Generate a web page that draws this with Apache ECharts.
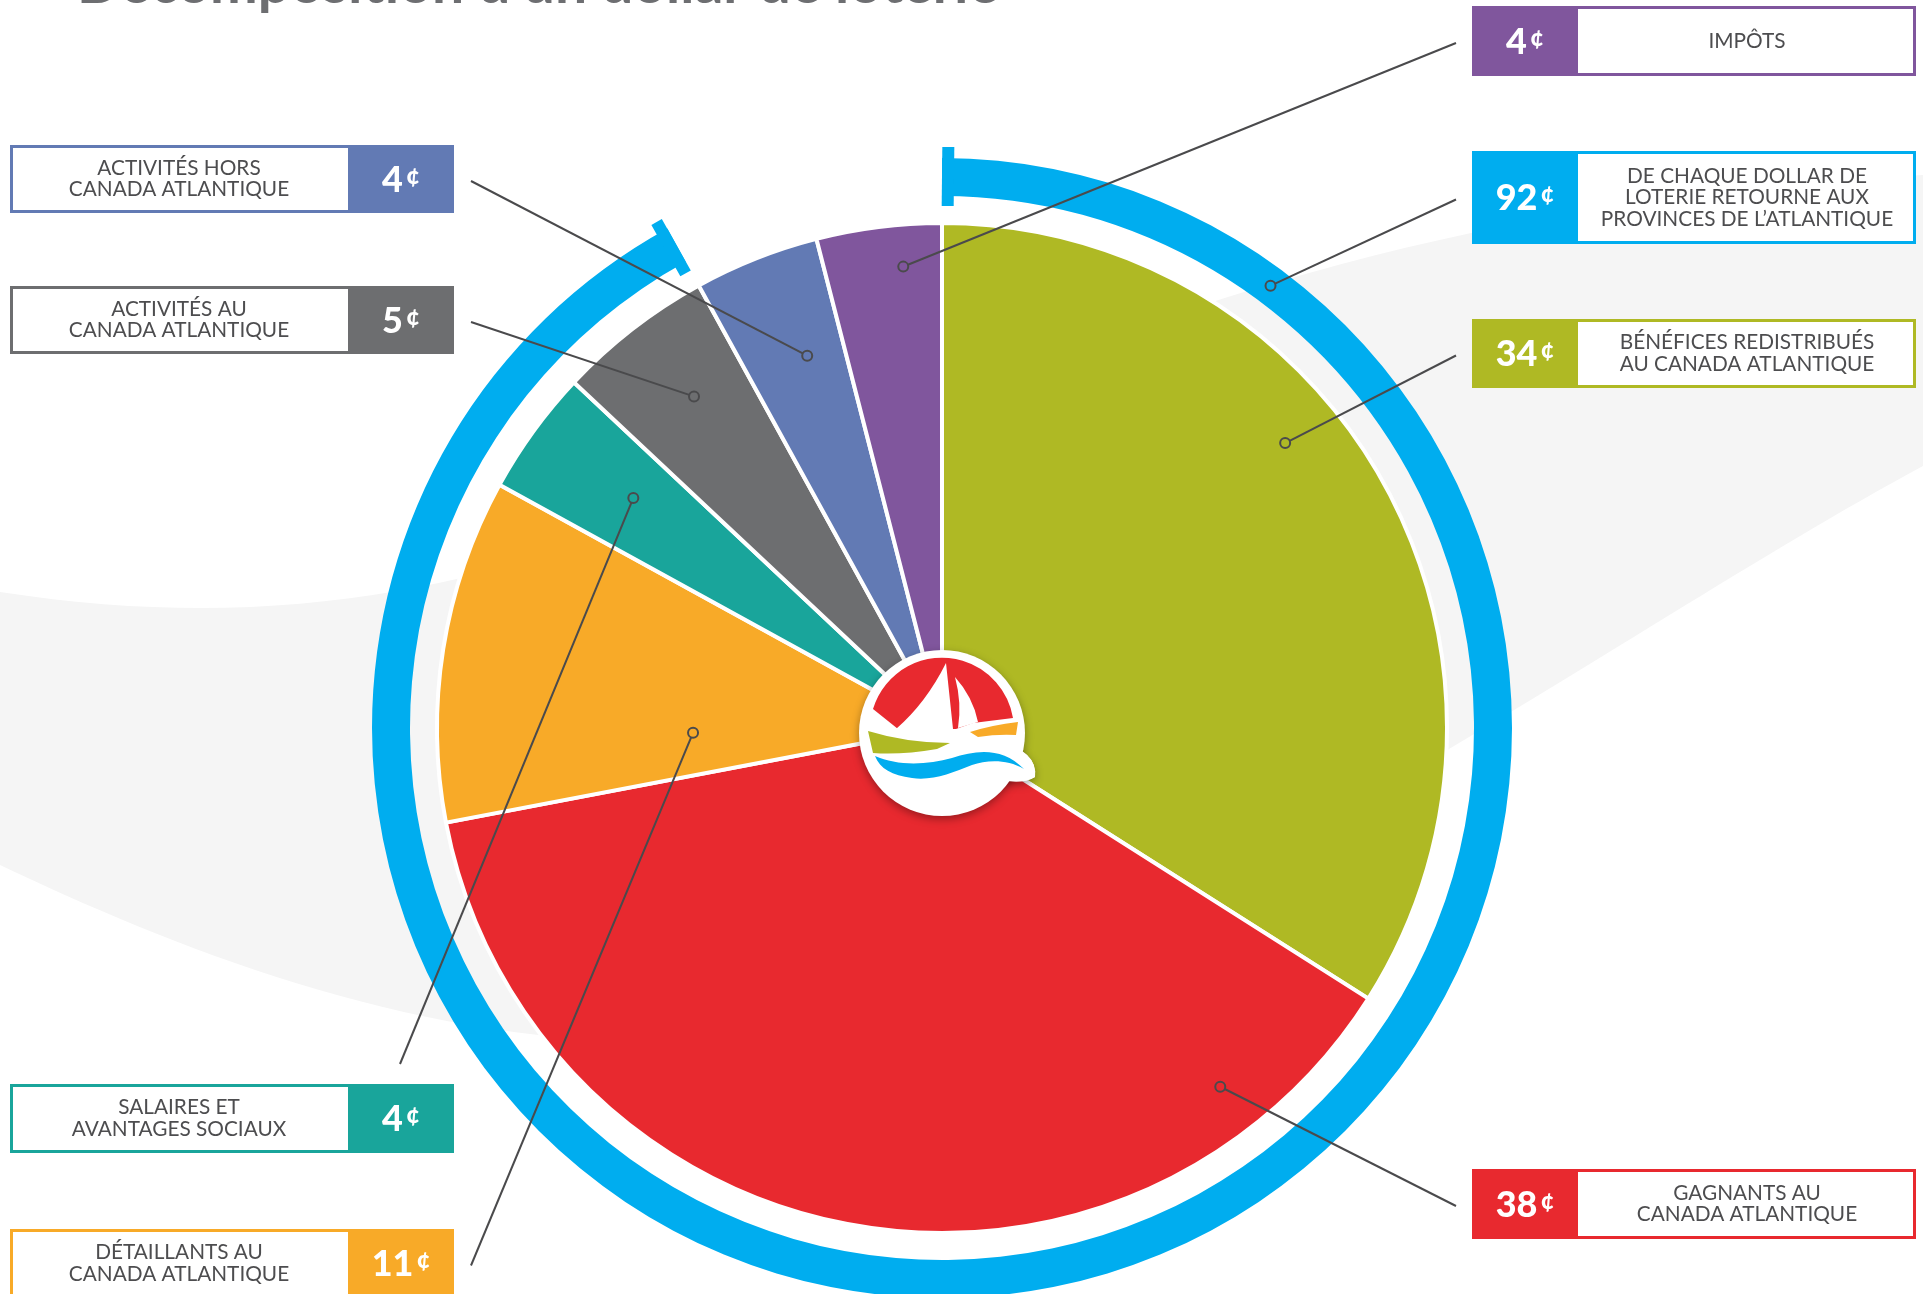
<!DOCTYPE html>
<html><head><meta charset="utf-8">
<script src="https://cdn.jsdelivr.net/npm/echarts@6.0.0/dist/echarts.min.js"></script>
<style>html,body{margin:0;padding:0;background:#fff;}#chart{width:1923px;height:1294px;}</style>
</head><body><div id="chart"></div>
<script>
// ---------- data ----------
const title = 'Décomposition d’un dollar de loterie';
const categories = [
  'BÉNÉFICES REDISTRIBUÉS\nAU CANADA ATLANTIQUE',
  'GAGNANTS AU\nCANADA ATLANTIQUE',
  'DÉTAILLANTS AU\nCANADA ATLANTIQUE',
  'SALAIRES ET\nAVANTAGES SOCIAUX',
  'ACTIVITÉS AU\nCANADA ATLANTIQUE',
  'ACTIVITÉS HORS\nCANADA ATLANTIQUE',
  'IMPÔTS'
];
const cents = [34, 38, 11, 4, 5, 4, 4];
const returnedLabel = 'DE CHAQUE DOLLAR DE\nLOTERIE RETOURNE AUX\nPROVINCES DE L’ATLANTIQUE';
const returnedCents = 92;

// ---------- styles & layout ----------
const colors = ['#afb924', '#e8292f', '#f8aa28', '#19a59b', '#6d6e70', '#627ab4', '#80569d'];
const ringColor = '#00adef';
const textGrey = '#4d4d4f';
const leaderColor = '#4a4a4c';
const CX = 942, CY = 728, R = 505, RING_IN = 532, RING_OUT = 570;
const BOXW = 444, VALW = 106;
const SIDE_X = { left: 10, right: 1472 };
const boxLayout = [
  { side: 'right', top: 319, h: 69, angle: 50.3, r: 446, end: 'side' },
  { side: 'right', top: 1169, h: 70, angle: 142.2, r: 454, end: 'side' },
  { side: 'left', top: 1229, h: 69, angle: 268.9, r: 249, end: 'side' },
  { side: 'left', top: 1084, h: 69, angle: 306.7, r: 385, end: 'top' },
  { side: 'left', top: 286, h: 68, angle: 323.2, r: 414, end: 'side' },
  { side: 'left', top: 145, h: 68, angle: 340.1, r: 396, end: 'side' },
  { side: 'right', top: 6, h: 70, angle: 355.2, r: 463, end: 'side' }
];
const returnedLayout = { side: 'right', top: 151, h: 93, angle: 36.6, r: 551, end: 'side' };

function polar(angleDeg, r) {
  const a = angleDeg * Math.PI / 180;
  return [CX + r * Math.sin(a), CY - r * Math.cos(a)];
}

let shapeCount = 0;
function pathEl(d, props) {
  const name = 'decoPath' + (shapeCount++);
  echarts.graphic.registerShape(name, echarts.graphic.extendPath(d, {}));
  return Object.assign({ type: name, silent: true }, props);
}

const elements = [];

// background swoosh
elements.push(pathEl('M0 592 C700 700 900 230 1923 175 L1923 466 C1600 640 1200 950 800 1030 C500 1080 200 960 0 865 Z',
  { z: -5, style: { fill: '#f5f5f5' } }));

// title (cropped at the top in the reference)
elements.push({
  type: 'text', z: 5, silent: true,
  style: { text: title, x: 77, y: -15, align: 'left', verticalAlign: 'middle',
    fontSize: 57, fontWeight: 'bold', fontFamily: 'Lato', fill: '#6d6e71' }
});

function addBox(lay, color, label, value) {
  const x0 = SIDE_X[lay.side];
  const valX = lay.side === 'left' ? x0 + BOXW - VALW : x0;
  const whiteX0 = lay.side === 'left' ? x0 : x0 + VALW;
  const whiteX1 = lay.side === 'left' ? x0 + BOXW - VALW : x0 + BOXW;
  const cy = lay.top + lay.h / 2;
  elements.push({ type: 'rect', z: 20, silent: true,
    shape: { x: x0 + 1.5, y: lay.top + 1.5, width: BOXW - 3, height: lay.h - 3 },
    style: { fill: '#fff', stroke: color, lineWidth: 3 } });
  elements.push({ type: 'rect', z: 21, silent: true,
    shape: { x: valX, y: lay.top, width: VALW, height: lay.h },
    style: { fill: color } });
  elements.push({ type: 'text', z: 22, silent: true,
    style: { text: label, x: (whiteX0 + whiteX1) / 2, y: cy, align: 'center', verticalAlign: 'middle',
      fontSize: 20.8, fontFamily: 'Lato', fill: textGrey, lineHeight: 21.5 } });
  elements.push({ type: 'text', z: 22, silent: true,
    style: { text: '{n|' + value + '}{c|¢}', x: valX + VALW / 2, y: cy + 1, align: 'center', verticalAlign: 'middle',
      rich: {
        n: { fontSize: 36, fontWeight: 900, fontFamily: 'Lato', fill: '#fff' },
        c: { fontSize: 24, fontWeight: 900, fontFamily: 'Lato', fill: '#fff', padding: [0, 0, 8, 3] }
      } } });
  // leader line
  const [ax, ay] = polar(lay.angle, lay.r);
  let ex, ey;
  if (lay.end === 'top') { ex = valX + VALW / 2 - 1; ey = lay.top - 20; }
  else if (lay.side === 'left') { ex = x0 + BOXW + 17; ey = cy + 2; }
  else { ex = x0 - 16; ey = cy + 2; }
  const d = Math.hypot(ex - ax, ey - ay);
  const rr = 5;
  elements.push({ type: 'line', z: 15, silent: true,
    shape: { x1: ax + (ex - ax) * rr / d, y1: ay + (ey - ay) * rr / d, x2: ex, y2: ey },
    style: { stroke: leaderColor, lineWidth: 2 } });
  elements.push({ type: 'circle', z: 15, silent: true,
    shape: { cx: ax, cy: ay, r: rr },
    style: { fill: 'rgba(0,0,0,0)', stroke: leaderColor, lineWidth: 2 } });
}

categories.forEach((c, i) => addBox(boxLayout[i], colors[i], c, cents[i]));
addBox(returnedLayout, ringColor, returnedLabel, returnedCents);

// ring end caps
const ringEnd = returnedCents / 100 * 360;
const capW = 12, capH = 59, capR = 551.5;
const capHalfAngle = (capW / 2) / capR * 180 / Math.PI;
[capHalfAngle, ringEnd - capHalfAngle].forEach(a => {
  const [px, py] = polar(a, capR);
  elements.push({ type: 'rect', z: 10, silent: true, x: px, y: py, rotation: -a * Math.PI / 180,
    shape: { x: -capW / 2, y: -capH / 2, width: capW, height: capH },
    style: { fill: ringColor } });
});

// center logo
const bulge = 'M55 8 Q96 18 93 44 Q80 52 55 46 Z';
elements.push({
  type: 'group', x: CX, y: CY + 5, z: 30, silent: true,
  children: [
    pathEl(bulge, { z: 30, style: { fill: '#fff', shadowBlur: 8, shadowColor: 'rgba(0,0,0,0.35)', shadowOffsetY: 3 } }),
    { type: 'circle', z: 30, silent: true, shape: { cx: 0, cy: 0, r: 83 },
      style: { fill: '#fff', shadowBlur: 8, shadowColor: 'rgba(0,0,0,0.35)', shadowOffsetY: 3 } },
    pathEl(bulge, { z: 31, style: { fill: '#fff' } }),
    pathEl('M-69 -24 A72 72 0 0 1 71 -15 L31 -10 L14 -4 L-44 -4 Z', { z: 32, style: { fill: '#e8292f' } }),
    pathEl('M4 -70 L11 -4 L-46 -4 Q-16 -30 4 -70 Z', { z: 33, style: { fill: '#fff' } }),
    pathEl('M13 -56 Q31 -36 36 -11 L16 -5 Q20 -30 13 -56 Z', { z: 33, style: { fill: '#fff' } }),
    pathEl('M-74 -2 Q-35 10 8 10 L-5 16 Q-40 22 -69 20 Z', { z: 33, style: { fill: '#afb924' } }),
    pathEl('M28 -1 Q50 -8 76 -11 L74 2 Q55 1 36 4 Z', { z: 33, style: { fill: '#f8aa28' } }),
    pathEl('M-67 23 C-45 33 -15 32 10 25 C35 17 60 14 82 36 C65 26 45 27 30 32 C10 40 -10 48 -30 45 C-50 42 -62 36 -67 23 Z',
      { z: 33, style: { fill: '#00adef' } })
  ]
});

const chart = echarts.init(document.getElementById('chart'), null, { renderer: 'canvas' });
chart.setOption({
  animation: false,
  backgroundColor: '#ffffff',
  series: [
    {
      type: 'pie', name: 'ring', silent: true, z: 3,
      center: [CX, CY], radius: [RING_IN, RING_OUT], startAngle: 90, clockwise: true,
      label: { show: false }, labelLine: { show: false },
      data: [
        { name: 'retour', value: returnedCents, itemStyle: { color: ringColor } },
        { name: 'reste', value: 100 - returnedCents, itemStyle: { color: 'rgba(0,0,0,0)' } }
      ]
    },
    {
      type: 'pie', name: 'dollar', silent: true, z: 4,
      center: [CX, CY], radius: [0, R], startAngle: 90, clockwise: true,
      label: { show: false }, labelLine: { show: false },
      itemStyle: { borderColor: '#ffffff', borderWidth: 4 },
      data: categories.map((c, i) => ({ name: c, value: cents[i], itemStyle: { color: colors[i] } }))
    }
  ],
  graphic: { elements: elements }
});
</script></body></html>
